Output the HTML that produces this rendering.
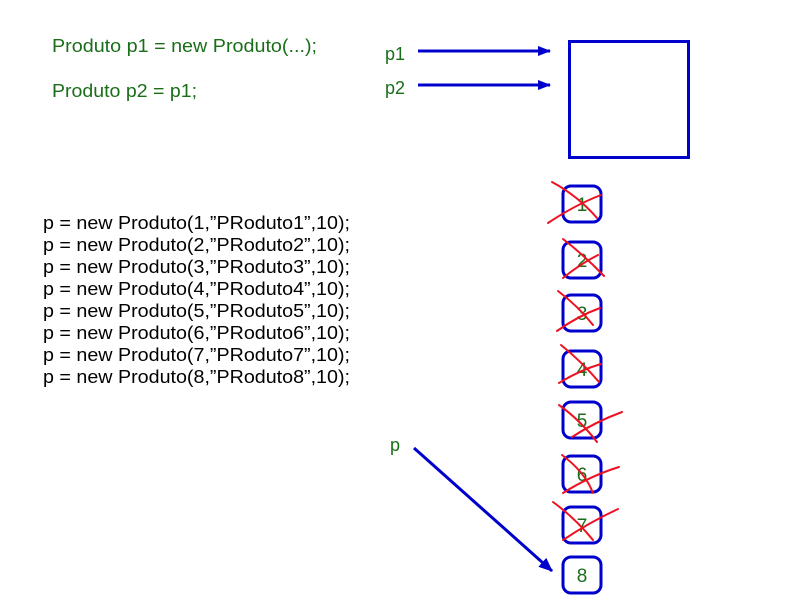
<!DOCTYPE html>
<html><head><meta charset="utf-8"><style>html,body{margin:0;padding:0;background:#fff}svg{display:block}</style></head>
<body>
<svg width="800" height="600" viewBox="0 0 800 600" xmlns="http://www.w3.org/2000/svg" font-family="'Liberation Sans', sans-serif">
<defs>
<marker id="ah" markerWidth="13" markerHeight="10" refX="12" refY="5" orient="auto" markerUnits="userSpaceOnUse">
<path d="M0,0 L13,5 L0,10 z" fill="#0000cc"/>
</marker>
<marker id="ah2" markerWidth="15" markerHeight="12" refX="13" refY="6" orient="auto" markerUnits="userSpaceOnUse">
<path d="M0,0 L14,6 L0,12 z" fill="#0000cc"/>
</marker>
</defs>
<g fill="#1a6e1a" font-size="18">
<text x="52" y="52" textLength="265" lengthAdjust="spacingAndGlyphs">Produto p1 = new Produto(...);</text>
<text x="52" y="97" textLength="145" lengthAdjust="spacingAndGlyphs">Produto p2 = p1;</text>
<text x="385" y="60">p1</text>
<text x="385" y="94">p2</text>
<text x="390" y="451">p</text>
</g>
<g fill="#000" font-size="18">
<text x="43" y="229" textLength="307" lengthAdjust="spacingAndGlyphs">p = new Produto(1,”PRoduto1”,10);</text>
<text x="43" y="251" textLength="307" lengthAdjust="spacingAndGlyphs">p = new Produto(2,”PRoduto2”,10);</text>
<text x="43" y="273" textLength="307" lengthAdjust="spacingAndGlyphs">p = new Produto(3,”PRoduto3”,10);</text>
<text x="43" y="295" textLength="307" lengthAdjust="spacingAndGlyphs">p = new Produto(4,”PRoduto4”,10);</text>
<text x="43" y="317" textLength="307" lengthAdjust="spacingAndGlyphs">p = new Produto(5,”PRoduto5”,10);</text>
<text x="43" y="339" textLength="307" lengthAdjust="spacingAndGlyphs">p = new Produto(6,”PRoduto6”,10);</text>
<text x="43" y="361" textLength="307" lengthAdjust="spacingAndGlyphs">p = new Produto(7,”PRoduto7”,10);</text>
<text x="43" y="383" textLength="307" lengthAdjust="spacingAndGlyphs">p = new Produto(8,”PRoduto8”,10);</text>
</g>
<rect x="569.5" y="41.5" width="119" height="116" fill="none" stroke="#0000cc" stroke-width="3"/>
<g stroke="#0000cc" stroke-width="3" fill="none">
<line x1="418" y1="51" x2="550" y2="51" marker-end="url(#ah)"/>
<line x1="418" y1="85" x2="550" y2="85" marker-end="url(#ah)"/>
<line x1="414" y1="448" x2="552" y2="571" marker-end="url(#ah2)"/>
</g>
<g stroke="#0000cc" stroke-width="3" fill="#fff">
<rect x="563" y="186" width="38" height="36" rx="8"/>
<rect x="563" y="242" width="38" height="36" rx="8"/>
<rect x="563" y="295" width="38" height="36" rx="8"/>
<rect x="563" y="351" width="38" height="36" rx="8"/>
<rect x="563" y="402" width="38" height="36" rx="8"/>
<rect x="563" y="456" width="38" height="36" rx="8"/>
<rect x="563" y="507" width="38" height="36" rx="8"/>
<rect x="563" y="557" width="38" height="36" rx="8"/>
</g>
<g fill="#1a6e1a" font-size="19" text-anchor="middle">
<text x="582" y="211">1</text>
<text x="582" y="267">2</text>
<text x="582" y="320">3</text>
<text x="582" y="376">4</text>
<text x="582" y="427">5</text>
<text x="582" y="481">6</text>
<text x="582" y="532">7</text>
<text x="582" y="582">8</text>
</g>
<g stroke="#ee1122" stroke-width="2" fill="none" stroke-linecap="round">
<path d="M552,182 Q578,196 597,218"/><path d="M548,223 Q575,205 601,195"/>
<path d="M563,239 Q585,256 604,276"/><path d="M563,278 Q580,264 598,255"/>
<path d="M558,291 Q578,306 593,325"/><path d="M557,331 Q578,316 600,308"/>
<path d="M561,345 Q582,362 599,382"/><path d="M559,383 Q580,370 601,364"/>
<path d="M559,405 Q580,420 597,442"/><path d="M572,437 Q595,422 622,412"/>
<path d="M562,455 Q585,472 593,493"/><path d="M563,493 Q590,476 619,467"/>
<path d="M553,502 Q575,518 593,540"/><path d="M563,540 Q590,522 618,509"/>
</g>
</svg>
</body></html>
